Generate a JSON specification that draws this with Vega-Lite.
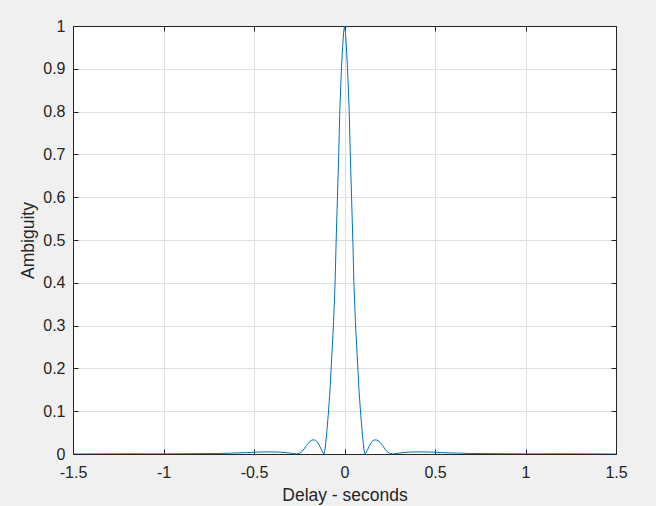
{
  "$schema": "https://vega.github.io/schema/vega-lite/v6.json",
  "width": 543,
  "height": 428,
  "autosize": {"type": "none"},
  "padding": {"left": 73, "top": 26, "right": 40, "bottom": 52},
  "background": "#f0f0f0",
  "config": {
    "view": {"fill": "white", "stroke": "#262626", "strokeWidth": 1},
    "font": "Liberation Sans",
    "axis": {
      "labelFont": "Liberation Sans",
      "titleFont": "Liberation Sans",
      "labelFontSize": 16,
      "titleFontSize": 17.5,
      "labelColor": "#262626",
      "titleColor": "#262626",
      "titleFontWeight": "normal",
      "domainColor": "#262626",
      "tickColor": "#262626",
      "gridColor": "#dfdfdf",
      "gridOpacity": 1
    }
  },
  "data": {"values": [
    {"delay": -1.5, "amb": 0},
    {"delay": -1.2, "amb": 0.0005},
    {"delay": -1.0, "amb": 0.0003},
    {"delay": -0.8, "amb": 0.0008},
    {"delay": -0.7, "amb": 0.0012},
    {"delay": -0.63, "amb": 0.002},
    {"delay": -0.55, "amb": 0.003},
    {"delay": -0.48, "amb": 0.0045},
    {"delay": -0.42, "amb": 0.005},
    {"delay": -0.36, "amb": 0.0045},
    {"delay": -0.32, "amb": 0.003},
    {"delay": -0.29, "amb": 0.0015},
    {"delay": -0.265, "amb": 0},
    {"delay": -0.25, "amb": 0.0015},
    {"delay": -0.24, "amb": 0.004},
    {"delay": -0.23, "amb": 0.008},
    {"delay": -0.22, "amb": 0.014},
    {"delay": -0.21, "amb": 0.02},
    {"delay": -0.2, "amb": 0.025},
    {"delay": -0.19, "amb": 0.03},
    {"delay": -0.18, "amb": 0.0325},
    {"delay": -0.17, "amb": 0.033},
    {"delay": -0.16, "amb": 0.032},
    {"delay": -0.15, "amb": 0.028},
    {"delay": -0.14, "amb": 0.021},
    {"delay": -0.13, "amb": 0.012},
    {"delay": -0.12, "amb": 0.004},
    {"delay": -0.113, "amb": 0},
    {"delay": -0.107, "amb": 0.012},
    {"delay": -0.1, "amb": 0.04},
    {"delay": -0.09, "amb": 0.09},
    {"delay": -0.08, "amb": 0.15},
    {"delay": -0.07, "amb": 0.23},
    {"delay": -0.06, "amb": 0.31},
    {"delay": -0.052, "amb": 0.4},
    {"delay": -0.046, "amb": 0.5},
    {"delay": -0.039, "amb": 0.6},
    {"delay": -0.032, "amb": 0.7},
    {"delay": -0.026, "amb": 0.8},
    {"delay": -0.017, "amb": 0.9},
    {"delay": -0.01, "amb": 0.955},
    {"delay": -0.005, "amb": 0.985},
    {"delay": 0, "amb": 1},
    {"delay": 0.005, "amb": 0.985},
    {"delay": 0.01, "amb": 0.955},
    {"delay": 0.017, "amb": 0.9},
    {"delay": 0.026, "amb": 0.8},
    {"delay": 0.032, "amb": 0.7},
    {"delay": 0.039, "amb": 0.6},
    {"delay": 0.046, "amb": 0.5},
    {"delay": 0.052, "amb": 0.4},
    {"delay": 0.06, "amb": 0.31},
    {"delay": 0.07, "amb": 0.23},
    {"delay": 0.08, "amb": 0.15},
    {"delay": 0.09, "amb": 0.09},
    {"delay": 0.1, "amb": 0.04},
    {"delay": 0.107, "amb": 0.012},
    {"delay": 0.113, "amb": 0},
    {"delay": 0.12, "amb": 0.004},
    {"delay": 0.13, "amb": 0.012},
    {"delay": 0.14, "amb": 0.021},
    {"delay": 0.15, "amb": 0.028},
    {"delay": 0.16, "amb": 0.032},
    {"delay": 0.17, "amb": 0.033},
    {"delay": 0.18, "amb": 0.0325},
    {"delay": 0.19, "amb": 0.03},
    {"delay": 0.2, "amb": 0.025},
    {"delay": 0.21, "amb": 0.02},
    {"delay": 0.22, "amb": 0.014},
    {"delay": 0.23, "amb": 0.008},
    {"delay": 0.24, "amb": 0.004},
    {"delay": 0.25, "amb": 0.0015},
    {"delay": 0.265, "amb": 0},
    {"delay": 0.29, "amb": 0.0015},
    {"delay": 0.32, "amb": 0.003},
    {"delay": 0.36, "amb": 0.0045},
    {"delay": 0.42, "amb": 0.005},
    {"delay": 0.48, "amb": 0.0045},
    {"delay": 0.55, "amb": 0.003},
    {"delay": 0.63, "amb": 0.002},
    {"delay": 0.7, "amb": 0.0012},
    {"delay": 0.8, "amb": 0.0008},
    {"delay": 1.0, "amb": 0.0003},
    {"delay": 1.2, "amb": 0.0005},
    {"delay": 1.5, "amb": 0}
  ]},
  "layer": [
    {
      "mark": {"type": "line", "color": "#0072BD", "strokeWidth": 1, "clip": true},
      "encoding": {
        "x": {
          "field": "delay", "type": "quantitative",
          "scale": {"domain": [-1.5, 1.5], "nice": false, "zero": false},
          "axis": {
            "title": "Delay - seconds",
            "values": [-1.5, -1, -0.5, 0, 0.5, 1, 1.5],
            "labelExpr": "datum.value < 0 ? '-' + format(-datum.value, '~g') : format(datum.value, '~g')",
            "tickSize": -5,
            "labelPadding": 15,
            "titlePadding": 6,
            "labelFlush": false
          }
        },
        "y": {
          "field": "amb", "type": "quantitative",
          "scale": {"domain": [0, 1], "nice": false},
          "axis": {
            "title": "Ambiguity",
            "values": [0, 0.1, 0.2, 0.3, 0.4, 0.5, 0.6, 0.7, 0.8, 0.9, 1],
            "labelExpr": "format(datum.value, '~g')",
            "tickSize": -5,
            "labelPadding": 13,
            "titlePadding": 5,
            "labelFlush": false
          }
        }
      }
    },
    {
      "mark": {"type": "line", "opacity": 0},
      "encoding": {
        "x": {
          "field": "delay", "type": "quantitative",
          "axis": {"orient": "top", "values": [-1.5, -1, -0.5, 0, 0.5, 1, 1.5], "labels": false, "grid": false, "title": null, "tickSize": -5}
        },
        "y": {
          "field": "amb", "type": "quantitative",
          "axis": {"orient": "right", "values": [0, 0.1, 0.2, 0.3, 0.4, 0.5, 0.6, 0.7, 0.8, 0.9, 1], "labels": false, "grid": false, "title": null, "tickSize": -5}
        }
      }
    }
  ],
  "resolve": {"axis": {"x": "independent", "y": "independent"}}
}
